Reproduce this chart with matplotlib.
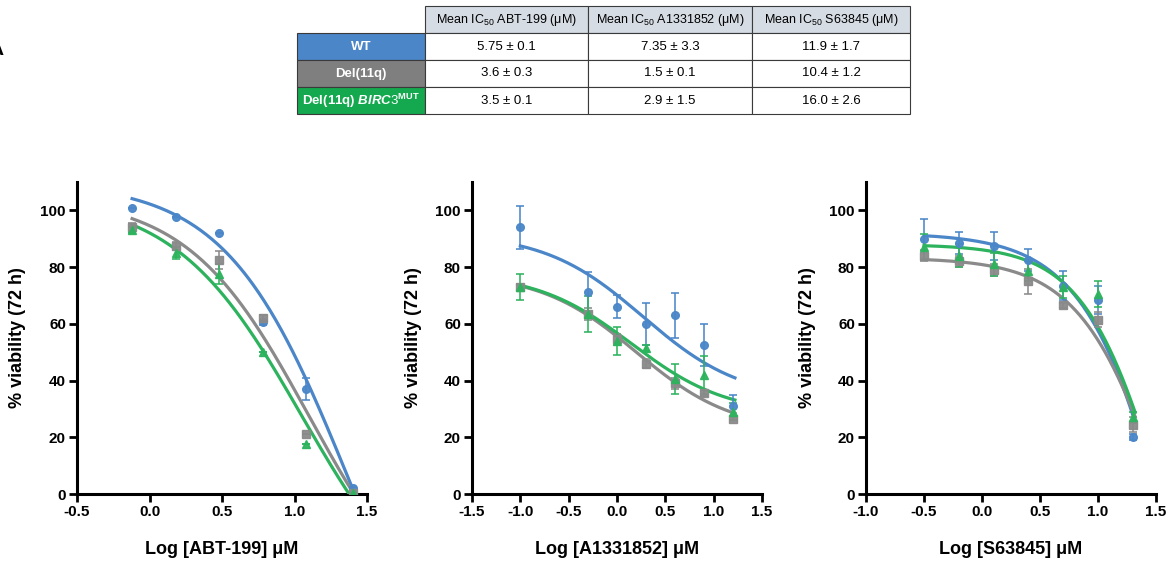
import numpy as np
import matplotlib
matplotlib.use('Agg')
import matplotlib.pyplot as plt

plt.rcParams['font.family'] = ['Liberation Sans', 'DejaVu Sans']
plt.rcParams['mathtext.fontset'] = 'custom'
plt.rcParams['mathtext.rm'] = 'Liberation Sans'
plt.rcParams['mathtext.it'] = 'Liberation Sans:italic:bold'
plt.rcParams['mathtext.bf'] = 'Liberation Sans:bold'

# Table values
groups = ['WT', 'Del(11q)', r'Del(11q) $\mathit{BIRC3}^{\mathbf{MUT}}$']
headers = ['', r'Mean IC$_{50}$ ABT-199 (μM)', r'Mean IC$_{50}$ A1331852 (μM)',
           r'Mean IC$_{50}$ S63845 (μM)']
ic50_abt = ['5.75 ± 0.1', '3.6 ± 0.3', '3.5 ± 0.1']
ic50_a133 = ['7.35 ± 3.3', '1.5 ± 0.1', '2.9 ± 1.5']
ic50_s638 = ['11.9 ± 1.7', '10.4 ± 1.2', '16.0 ± 2.6']

# ABT-199 panel
abt_x = [-0.12, 0.18, 0.48, 0.78, 1.08, 1.40]
abt_wt = [101, 97.5, 92, 60.5, 37, 2]
abt_wt_err = [0, 0, 0, 1, 4, 0.5]
abt_del = [94, 87.5, 82.5, 62, 21, 0.5]
abt_del_err = [1.5, 1.5, 3, 1, 0, 0]
abt_birc = [93, 85, 77.5, 50, 17.5, 0.5]
abt_birc_err = [1, 2, 3.5, 0, 0, 0]
# fitted curves: top, bottom, logIC50, hill
abt_fit_wt = [110, -100, 1.376, 1.03]
abt_fit_del = [105, -50, 1.10, 1.04]
abt_fit_birc = [105, -50, 1.051, 0.99]

# A1331852 panel
a133_x = [-1.0, -0.30, 0.0, 0.30, 0.60, 0.90, 1.20]
a133_wt = [94, 71.3, 66, 60, 63, 52.5, 31]
a133_wt_err = [7.5, 7, 4, 7.5, 8, 7.5, 4]
a133_del = [73, 63.5, 54.5, 46, 39, 35.5, 26.5]
a133_del_err = [1, 2, 2, 1.5, 2, 1, 0.5]
a133_birc = [73, 63.5, 54, 51.5, 40.5, 42, 29]
a133_birc_err = [4.5, 6.3, 5, 1, 5.3, 6.7, 3]
a133_fit_wt = [92, 33, 0.27, 0.85]
a133_fit_del = [78, 22, 0.20, 0.87]
a133_fit_birc = [78, 28, 0.15, 0.88]

# S63845 panel
s638_x = [-0.50, -0.20, 0.10, 0.40, 0.70, 1.00, 1.30]
s638_wt = [90, 88.5, 87.5, 82.5, 73.5, 68.5, 20]
s638_wt_err = [7, 4, 5, 4, 5, 5, 1]
s638_del = [84, 82, 79, 75, 66.5, 61.5, 24.5]
s638_del_err = [2, 2, 2, 4.5, 1, 2.5, 2.5]
s638_birc = [87, 84, 81, 78.5, 73, 70.5, 27]
s638_birc_err = [4.5, 4, 4, 3.5, 4, 4.5, 2]
s638_fit_wt = [92, -200, 1.81, 1.08]
s638_fit_del = [83.3, -100, 1.63, 1.15]
s638_fit_birc = [88, -100, 1.59, 1.25]

blue = '#4A86C8'
grey = '#8A8A8A'
green = '#2DB35D'


def logistic(x, p):
    top, bottom, c, h = p
    return bottom + (top - bottom) / (1 + 10 ** ((x - c) * h))


fig = plt.figure(figsize=(11.68, 5.61), dpi=100)

# panel letter, cut at the left edge as in the source figure
fig.text(0.003, 1 - 49 / 561, 'A', ha='right', va='center', fontsize=15, fontweight='bold')

# table
tax = fig.add_axes([297 / 1168, 1 - 114 / 561, 613 / 1168, 108 / 561])
tax.axis('off')
cells = [headers] + [[groups[i], ic50_abt[i], ic50_a133[i], ic50_s638[i]] for i in range(3)]
widths = np.array([128, 163, 164, 158]) / 613
tbl = tax.table(cellText=cells, colWidths=widths, bbox=[0, 0, 1, 1], cellLoc='center')
tbl.auto_set_font_size(False)
row_colors = [blue, '#7F7F7F', '#14A84F']
for (r, c), cell in tbl.get_celld().items():
    cell.set_edgecolor('#3A3A3A')
    cell.set_linewidth(0.8)
    cell.get_text().set_fontsize(9.5)
    if r == 0:
        cell.get_text().set_fontsize(9)
        if c == 0:
            cell.set_edgecolor('white')
            cell.visible_edges = ''
        else:
            cell.set_facecolor('#D6DCE4')
    elif c == 0:
        cell.set_facecolor(row_colors[r - 1])
        cell.get_text().set_color('white')
        cell.get_text().set_fontweight('bold')


def draw_panel(left, x, series, fits, xlim, xticks, xlabel):
    ax = fig.add_axes([left, 1 - 494 / 561, 290 / 1168, 312 / 561])
    xs = np.linspace(x[0], x[-1] + 0.02, 200)
    for (y, err, col, mk), fit in zip(series, fits):
        ax.errorbar(x, y, yerr=err, fmt=mk, color=col, ms=5.5, ecolor=col,
                    elinewidth=1.2, capsize=3, capthick=1.2, alpha=0.95, zorder=4)
        ax.plot(xs, logistic(xs, fit), color=col, lw=2.3, zorder=3)
    ax.set_xlim(*xlim)
    ax.set_ylim(0, 110)
    ax.set_xticks(xticks)
    ax.set_xticklabels(['%.1f' % t for t in xticks])
    ax.set_yticks([0, 20, 40, 60, 80, 100])
    ax.spines['top'].set_visible(False)
    ax.spines['right'].set_visible(False)
    for s in ['left', 'bottom']:
        ax.spines[s].set_linewidth(2.2)
    ax.tick_params(width=2, length=6, labelsize=11, pad=2)
    for lab in ax.get_xticklabels() + ax.get_yticklabels():
        lab.set_fontweight('bold')
    ax.set_ylabel('% viability (72 h)', fontsize=13, fontweight='bold', labelpad=10)
    ax.set_xlabel(xlabel, fontsize=13, fontweight='bold', labelpad=16)
    return ax


draw_panel(77 / 1168, abt_x,
           [(abt_wt, abt_wt_err, blue, 'o'), (abt_del, abt_del_err, grey, 's'),
            (abt_birc, abt_birc_err, green, '^')],
           [abt_fit_wt, abt_fit_del, abt_fit_birc],
           (-0.5, 1.5), [-0.5, 0.0, 0.5, 1.0, 1.5], 'Log [ABT-199] μM')

draw_panel(472 / 1168, a133_x,
           [(a133_wt, a133_wt_err, blue, 'o'), (a133_del, a133_del_err, grey, 's'),
            (a133_birc, a133_birc_err, green, '^')],
           [a133_fit_wt, a133_fit_del, a133_fit_birc],
           (-1.5, 1.5), [-1.5, -1.0, -0.5, 0.0, 0.5, 1.0, 1.5], 'Log [A1331852] μM')

draw_panel(866 / 1168, s638_x,
           [(s638_wt, s638_wt_err, blue, 'o'), (s638_del, s638_del_err, grey, 's'),
            (s638_birc, s638_birc_err, green, '^')],
           [s638_fit_wt, s638_fit_del, s638_fit_birc],
           (-1.0, 1.5), [-1.0, -0.5, 0.0, 0.5, 1.0, 1.5], 'Log [S63845] μM')

plt.savefig('out.png', dpi=100)
